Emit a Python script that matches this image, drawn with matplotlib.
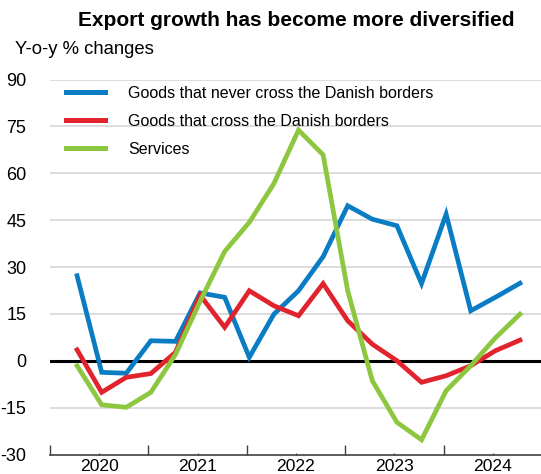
import matplotlib
matplotlib.use("Agg")
import matplotlib.pyplot as plt
import numpy as np

plt.rcParams['font.family'] = ['Liberation Sans', 'DejaVu Sans']

title = "Export growth has become more diversified"
ylabel = "Y-o-y % changes"
years = ["2020", "2021", "2022", "2023", "2024"]
quarters = ["2020Q1", "2020Q2", "2020Q3", "2020Q4",
            "2021Q1", "2021Q2", "2021Q3", "2021Q4",
            "2022Q1", "2022Q2", "2022Q3", "2022Q4",
            "2023Q1", "2023Q2", "2023Q3", "2023Q4",
            "2024Q1", "2024Q2", "2024Q3"]
never_cross = [27.2, -3.7, -4.0, 6.4, 6.2, 21.7, 20.3, 1.1, 14.9, 22.4,
               33.3, 49.6, 45.3, 43.2, 24.7, 46.9, 16.0, 20.3, 24.8]
cross = [3.5, -10.1, -5.3, -4.1, 2.7, 21.0, 10.7, 22.4, 17.6, 14.4,
         24.7, 12.8, 5.3, 0.0, -6.9, -4.8, -1.6, 3.2, 6.6]
services = [-1.6, -14.1, -14.9, -10.1, 2.0, 19.0, 35.0, 44.3, 56.7, 73.8,
            65.9, 22.4, -6.4, -19.7, -25.3, -9.6, -1.6, 7.3, 14.9]
series_names = ["Goods that never cross the Danish borders",
                "Goods that cross the Danish borders",
                "Services"]
colors = ["#0a7cc4", "#e0232c", "#8dc63f"]

W, H = 541, 474
fig = plt.figure(figsize=(W / 100, H / 100), dpi=100)
ax = fig.add_axes([50 / W, (H - 454.5) / H, (W - 50) / W + 0.002, (454.5 - 79.5) / H])

x = np.arange(len(quarters)) + 1.1
for vals, c, name in zip([never_cross, cross, services], colors, series_names):
    ax.plot(x, vals, color=c, lw=3.4, label=name, solid_joinstyle='miter', zorder=3)

ax.set_ylim(-30, 90)
ax.set_xlim(0, 20)
yt = np.arange(-30, 91, 15)
ax.set_yticks(yt)
ax.set_yticklabels([str(v) for v in yt], fontsize=13)
ax.tick_params(axis='y', length=0, pad=17)
for t in ax.get_yticklabels():
    t.set_horizontalalignment('right')
for v in yt[1:]:
    if v == 0:
        continue
    ax.axhline(v, color="#d9d9d9", lw=1.3, zorder=1)
ax.axhline(0, color="black", lw=2.2, zorder=2)

ax.set_xticks(np.arange(0, 21, 4))
ax.set_xticklabels([])
ax.set_xticks(np.arange(2, 20, 4), minor=True)
ax.set_xticklabels(years, minor=True, fontsize=12.6)
ax.tick_params(axis='x', which='major', direction='in', length=7.5, width=1.0, color="#404040")
ax.tick_params(axis='x', which='minor', direction='in', length=1.5, width=0.8, color="#404040", pad=3)

for s in ['top', 'right', 'left']:
    ax.spines[s].set_visible(False)
ax.spines['bottom'].set_color("#404040")
ax.spines['bottom'].set_linewidth(1.2)

fig.text(296 / W, 1 - 20 / H, title, ha='center', va='center', fontsize=15, fontweight='bold')
fig.text(15 / W, 1 - 50 / H, ylabel, ha='left', va='center', fontsize=13.3)

leg = ax.legend(loc='upper left', bbox_to_anchor=(65.5 / W, 1 - 86 / H), bbox_transform=fig.transFigure,
                frameon=False, fontsize=11.5, handlelength=2.45, handletextpad=1.45,
                labelspacing=0.8, borderaxespad=0, borderpad=0)
for l in leg.get_lines():
    l.set_linewidth(3.6)

fig.savefig("out.png", dpi=100)
